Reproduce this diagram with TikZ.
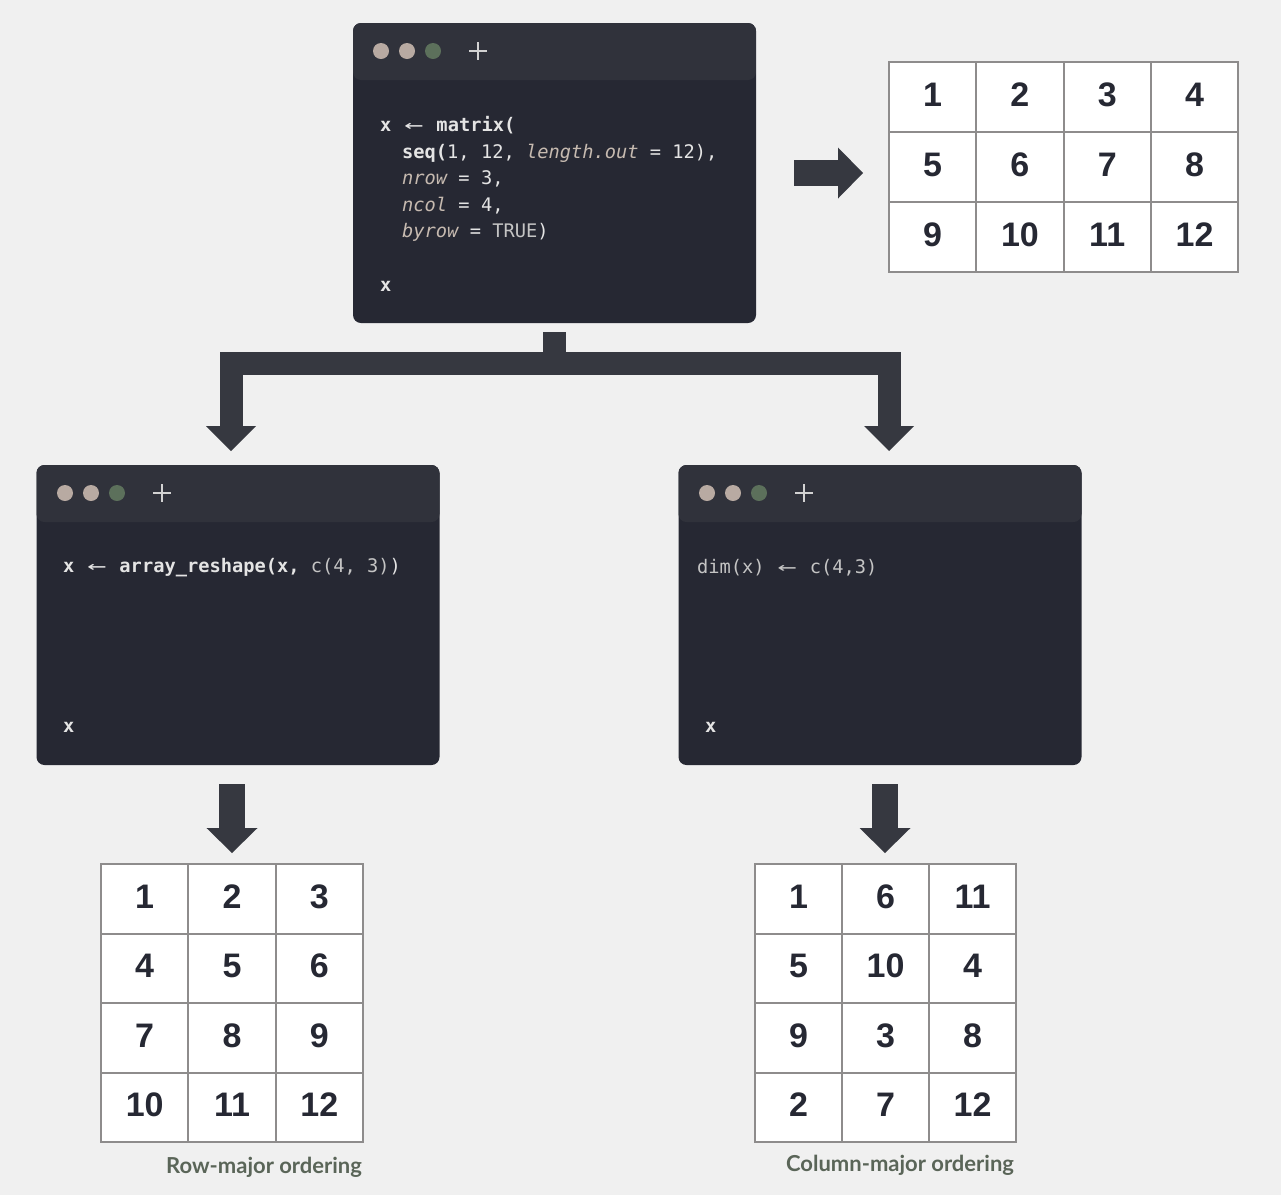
\documentclass[tikz,border=0pt]{standalone}
\usepackage{fontspec}
\usepackage{graphicx}
\usetikzlibrary{arrows.meta}
\newfontfamily\codefont{DejaVu Sans Mono}
\newfontfamily\numfont{Liberation Sans}
\newfontfamily\capfont{Lato}
\definecolor{paper}{HTML}{F0F0F0}
\definecolor{winbody}{HTML}{262833}
\definecolor{winbar}{HTML}{30323B}
\definecolor{dotpink}{HTML}{B8AAA2}
\definecolor{dotgreen}{HTML}{5C705B}
\definecolor{pluscol}{HTML}{D2D2D2}
\definecolor{codefg}{HTML}{E4E4E4}
\definecolor{codearg}{HTML}{C6BAB0}
\definecolor{codedim}{HTML}{C4C4C4}
\definecolor{arrowgray}{HTML}{363840}
\definecolor{cellline}{HTML}{8E8C8C}
\definecolor{numink}{HTML}{262833}
\definecolor{capink}{HTML}{5A6558}
% two-column wide assignment arrow
\newcommand{\lar}{\makebox[1.204em]{\scalebox{1.7}[1]{←}}}
\newcommand{\argtxt}[1]{{\itshape\color{codearg}#1}}

\tikzset{
  codewin/.style={rounded corners=8pt, fill=winbody, minimum width=403pt, minimum height=300pt, inner sep=0pt,
    path picture={\fill[winbar] (path picture bounding box.north west) rectangle ([yshift=-57pt]path picture bounding box.north east);}},
  code/.style={anchor=base west, inner sep=0pt, text=codefg, font=\codefont\fontsize{18.7}{22}\selectfont},
  cell/.style={draw=cellline, line width=2pt, fill=white, minimum width=87.3pt, minimum height=70pt, inner sep=0pt,
    text height=24.5pt, text depth=6pt, text=numink, font=\numfont\bfseries\fontsize{34}{34}\selectfont},
  cellb/.style={cell, minimum height=69.5pt},
  blockarrow/.style={draw=arrowgray, line width=26pt, -{Triangle[width=51pt, length=25pt, line width=0pt]}},
  branch/.style={draw=arrowgray, line width=23pt, -{Triangle[width=50pt, length=25pt, line width=0pt]}},
  caption/.style={text=capink, font=\capfont\bfseries\fontsize{22}{24}\selectfont}
}

\begin{document}
\begin{tikzpicture}[x=1pt, y=-1pt]
\fill[paper] (0,0) rectangle (1281,1195);
\useasboundingbox (0,0) rectangle (1281,1195);

% code windows
\node[codewin] (top) at (554.5,173) {};
\node[codewin] (rowwin) at (238,615) {};
\node[codewin] (colwin) at (880,615) {};

\fill[dotpink] (381,51) circle (8pt) (407,51) circle (8pt);
\fill[dotgreen] (433,51) circle (8pt);
\draw[pluscol, line width=2pt] (469,51) -- (487,51) (478,42) -- (478,60);
\fill[dotpink] (65,493) circle (8pt) (91,493) circle (8pt);
\fill[dotgreen] (117,493) circle (8pt);
\draw[pluscol, line width=2pt] (153,493) -- (171,493) (162,484) -- (162,502);
\fill[dotpink] (707,493) circle (8pt) (733,493) circle (8pt);
\fill[dotgreen] (759,493) circle (8pt);
\draw[pluscol, line width=2pt] (795,493) -- (813,493) (804,484) -- (804,502);

\node[code] (m1) at (380,131) {\textbf{x} \lar{} \textbf{matrix(}};
\node[code] (m2) at (402,158) {\textbf{seq(}1, 12, \argtxt{length.out} = 12),};
\node[code] (m3) at (402,184) {\argtxt{nrow} = 3,};
\node[code] (m4) at (402,211) {\argtxt{ncol} = 4,};
\node[code] (m5) at (402,237) {\argtxt{byrow} = {\color{codedim}TRUE})};
\node[code] (m6) at (380,291) {\textbf{x}};

\node[code] (r1) at (63,572) {\textbf{x} \lar{} \textbf{array\_reshape(x,} {\color{codedim}c(4, 3)})};
\node[code] (r2) at (63,732) {\textbf{x}};

\node[code, text=codedim] (d1) at (697,573) {dim(x) \lar{} c(4,3)};
\node[code] (d2) at (705,732) {\textbf{x}};

% arrows
\coordinate (gridin) at (863,173);
\coordinate (rowtip) at (231,451);
\coordinate (coltip) at (889,451);
\coordinate (rowin) at (232,853);
\coordinate (colin) at (885,853);
\draw[blockarrow] ([xshift=38pt]top.east) -- (gridin);
\draw[branch] ([yshift=-9pt]top.south) -- ++(0,31.5) -| (rowtip);
\draw[branch] ([yshift=-9pt]top.south) -- ++(0,31.5) -| (coltip);
\draw[blockarrow] ([yshift=-19pt]rowwin.south -| rowin) -- (rowin);
\draw[blockarrow] ([yshift=-19pt]colwin.south -| colin) -- (colin);

% matrix 3 x 4
\node[cell] (t1) at (932.6,97) {1};
\node[cell] (t2) at (1019.9,97) {2};
\node[cell] (t3) at (1107.2,97) {3};
\node[cell] (t4) at (1194.5,97) {4};
\node[cell] (t5) at (932.6,167) {5};
\node[cell] (t6) at (1019.9,167) {6};
\node[cell] (t7) at (1107.2,167) {7};
\node[cell] (t8) at (1194.5,167) {8};
\node[cell] (t9) at (932.6,237) {9};
\node[cell] (t10) at (1019.9,237) {10};
\node[cell] (t11) at (1107.2,237) {11};
\node[cell] (t12) at (1194.5,237) {12};

% row-major result
\node[cellb] (a1) at (144.7,898.8) {1};
\node[cellb] (a2) at (232,898.8) {2};
\node[cellb] (a3) at (319.3,898.8) {3};
\node[cellb] (a4) at (144.7,968.3) {4};
\node[cellb] (a5) at (232,968.3) {5};
\node[cellb] (a6) at (319.3,968.3) {6};
\node[cellb] (a7) at (144.7,1037.8) {7};
\node[cellb] (a8) at (232,1037.8) {8};
\node[cellb] (a9) at (319.3,1037.8) {9};
\node[cellb] (a10) at (144.7,1107.3) {10};
\node[cellb] (a11) at (232,1107.3) {11};
\node[cellb] (a12) at (319.3,1107.3) {12};

% column-major result
\node[cellb] (b1) at (798.5,898.8) {1};
\node[cellb] (b2) at (885.5,898.8) {6};
\node[cellb] (b3) at (972.5,898.8) {11};
\node[cellb] (b4) at (798.5,968.3) {5};
\node[cellb] (b5) at (885.5,968.3) {10};
\node[cellb] (b6) at (972.5,968.3) {4};
\node[cellb] (b7) at (798.5,1037.8) {9};
\node[cellb] (b8) at (885.5,1037.8) {3};
\node[cellb] (b9) at (972.5,1037.8) {8};
\node[cellb] (b10) at (798.5,1107.3) {2};
\node[cellb] (b11) at (885.5,1107.3) {7};
\node[cellb] (b12) at (972.5,1107.3) {12};

\node[caption] (rowcap) at (264,1167) {Row-major ordering};
\node[caption] (colcap) at (900,1165) {Column-major ordering};
\end{tikzpicture}
\end{document}
